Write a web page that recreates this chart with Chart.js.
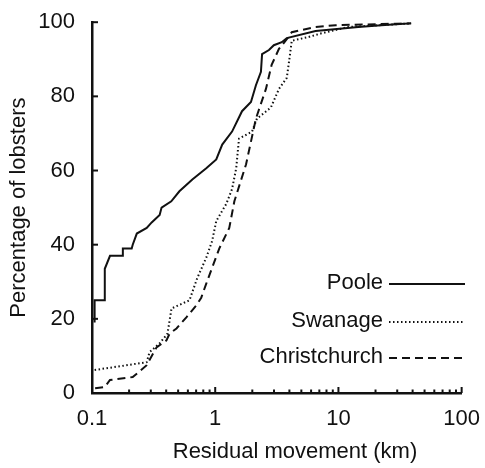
<!DOCTYPE html>
<html>
<head>
<meta charset="utf-8">
<script src="https://cdn.jsdelivr.net/npm/chart.js@4/dist/chart.umd.min.js"></script>
<style>
  html, body { margin: 0; padding: 0; background: #fff; }
  #wrap { width: 485px; height: 468px; }
</style>
</head>
<body>
<div id="wrap"><canvas id="lobsterChart"></canvas></div>
<script>
'use strict';

// data (x = km, y = % of lobsters)
const seriesNames = ['Poole', 'Swanage', 'Christchurch'];

const pooleX = [0.105, 0.105, 0.127, 0.127, 0.14, 0.178, 0.178, 0.21, 0.214, 0.231, 0.278, 0.305, 0.354, 0.367, 0.44, 0.512, 0.652, 0.846, 1.02, 1.14, 1.37, 1.65, 1.95, 2.14, 2.35, 2.4, 2.73, 2.99, 3.47, 3.81, 6.52, 14.5, 22.3, 38.9];
const pooleY = [19, 25, 25, 33.5, 37, 37, 39, 39, 40, 43, 44.5, 46, 48, 50, 51.7, 54.4, 57.6, 60.6, 63, 67, 70.5, 76, 78.5, 83, 86.6, 91.4, 92.5, 93.8, 94.6, 95.7, 97.6, 98.7, 99.2, 99.7];

const swanageX = [0.105, 0.278, 0.293, 0.354, 0.41, 0.442, 0.618, 0.715, 0.846, 0.944, 1.02, 1.23, 1.37, 1.48, 1.56, 1.99, 2.18, 2.83, 3.29, 3.81, 3.96, 4.18, 5.7, 7.28, 12, 38.9];
const swanageY = [6.2, 8.3, 11, 13.4, 16, 22.8, 25, 31, 36.5, 41, 46.4, 51, 55, 60.6, 68.6, 70.5, 74, 77, 82, 85, 89, 95, 96, 97, 98.7, 99.7];

const christX = [0.106, 0.127, 0.14, 0.214, 0.235, 0.278, 0.334, 0.402, 0.426, 0.485, 0.583, 0.702, 0.77, 0.846, 0.944, 1.08, 1.3, 1.43, 1.78, 2.14, 2.58, 2.87, 3.29, 3.81, 4.18, 6.52, 9.5, 38.9];
const christY = [1.3, 1.6, 3.5, 4.3, 5.4, 7.5, 12.3, 14.2, 16, 17.4, 20.4, 23.6, 25.7, 29.5, 33.8, 39, 44.5, 51.7, 61.7, 74, 82, 88.5, 92.8, 95.4, 97.3, 98.7, 99.2, 99.7];

// tick values
const xMajorTicks = [0.1, 1, 10, 100];
const xMinorSteps = [2, 3, 4, 5, 6, 7, 8, 9];
const yTicks = [0, 20, 40, 60, 80, 100];

const FONT = 'Arial, "Liberation Sans", sans-serif';
const FSIZE = 22;

let toPoints = (xs, ys) => xs.map((x, i) => ({x: x, y: ys[i]}));

// all x tick values (decades + minor ones between)
let xTicks = [];
xMajorTicks.forEach(function(d, i){
  xTicks.push(d);
  if(i < xMajorTicks.length - 1){
    xMinorSteps.forEach(s => xTicks.push(+(d * s).toPrecision(3)));
  }
});

// inward tick marks, the figure has them pointing into the plot
const innerTicks = {
  id: 'innerTicks',
  afterDraw(chart){
    const ctx = chart.ctx;
    const area = chart.chartArea;
    const xs = chart.scales.x;
    const ys = chart.scales.y;
    ctx.save();
    ctx.strokeStyle = '#111';
    ctx.lineWidth = 2;
    xTicks.forEach(function(v){
      let px = xs.getPixelForValue(v);
      let len = xMajorTicks.includes(v) ? 6 : 3.5;
      ctx.beginPath();
      ctx.moveTo(px, area.bottom);
      ctx.lineTo(px, area.bottom - len);
      ctx.stroke();
    });
    yTicks.forEach(function(v){
      let py = ys.getPixelForValue(v);
      ctx.beginPath();
      ctx.moveTo(area.left, py);
      ctx.lineTo(area.left + 6, py);
      ctx.stroke();
    });
    ctx.restore();
  }
};

// legend: label first, then a sample of the line, inside the plot at lower right
const sideLegend = {
  id: 'sideLegend',
  afterDraw(chart){
    const ctx = chart.ctx;
    const rowsY = [283, 321, 357];
    ctx.save();
    ctx.font = FSIZE + 'px ' + FONT;
    ctx.fillStyle = '#111';
    ctx.textAlign = 'right';
    ctx.textBaseline = 'middle';
    chart.data.datasets.forEach(function(ds, i){
      ctx.fillText(ds.label, 383, rowsY[i]);
      ctx.beginPath();
      ctx.setLineDash(ds.borderDash || []);
      ctx.lineWidth = ds.borderWidth;
      ctx.strokeStyle = ds.borderColor;
      ctx.moveTo(389, rowsY[i] + 1);
      ctx.lineTo(465, rowsY[i] + 1);
      ctx.stroke();
    });
    ctx.restore();
  }
};

// x title sits a bit right of the plot centre in the figure
const xTitle = {
  id: 'xTitle',
  afterDraw(chart){
    const ctx = chart.ctx;
    ctx.save();
    ctx.font = FSIZE + 'px ' + FONT;
    ctx.fillStyle = '#111';
    ctx.textAlign = 'center';
    ctx.textBaseline = 'middle';
    ctx.fillText('Residual movement (km)', 295, 452);
    ctx.restore();
  }
};

let ctx = document.getElementById('lobsterChart').getContext('2d');
/* eslint-disable-next-line no-unused-vars, no-undef */
let lobsterChart = new Chart(ctx, {
  type: 'line',
  data: {
    datasets: [{
      label: seriesNames[0],
      data: toPoints(pooleX, pooleY),
      borderColor: '#111',
      borderWidth: 2,
      pointRadius: 0
    }, {
      label: seriesNames[1],
      data: toPoints(swanageX, swanageY),
      borderColor: '#111',
      borderWidth: 2,
      borderDash: [1.5, 2.5],
      pointRadius: 0
    }, {
      label: seriesNames[2],
      data: toPoints(christX, christY),
      borderColor: '#111',
      borderWidth: 2,
      borderDash: [8, 5],
      pointRadius: 0
    }]
  },
  options: {
    responsive: true,
    maintainAspectRatio: false,
    animation: false,
    layout: { padding: { top: 19.5, right: 22, left: 0, bottom: 0 } },
    plugins: {
      legend: { display: false },
      tooltip: { enabled: false }
    },
    scales: {
      x: {
        type: 'logarithmic',
        min: 0.1,
        max: 100,
        grid: { display: false },
        border: { display: true, color: '#111', width: 2.5 },
        afterBuildTicks: function(scale){
          scale.ticks = xTicks.map(v => ({value: v}));
        },
        afterFit: function(scale){ scale.height = 75; },
        ticks: {
          autoSkip: false,
          maxRotation: 0,
          padding: 5,
          color: '#111',
          font: { family: FONT, size: FSIZE },
          callback: function(value){
            return xMajorTicks.includes(value) ? String(value) : '';
          }
        }
      },
      y: {
        min: 0,
        max: 100,
        grid: { display: false },
        border: { display: true, color: '#111', width: 2.5 },
        afterBuildTicks: function(scale){
          scale.ticks = yTicks.map(v => ({value: v}));
        },
        afterFit: function(scale){ scale.width = 92; },
        ticks: {
          padding: 9,
          color: '#111',
          font: { family: FONT, size: FSIZE }
        },
        title: {
          display: true,
          text: 'Percentage of lobsters',
          color: '#111',
          font: { family: FONT, size: FSIZE },
          padding: { top: 6, bottom: 0 }
        }
      }
    }
  },
  plugins: [innerTicks, sideLegend, xTitle]
});
</script>
</body>
</html>
